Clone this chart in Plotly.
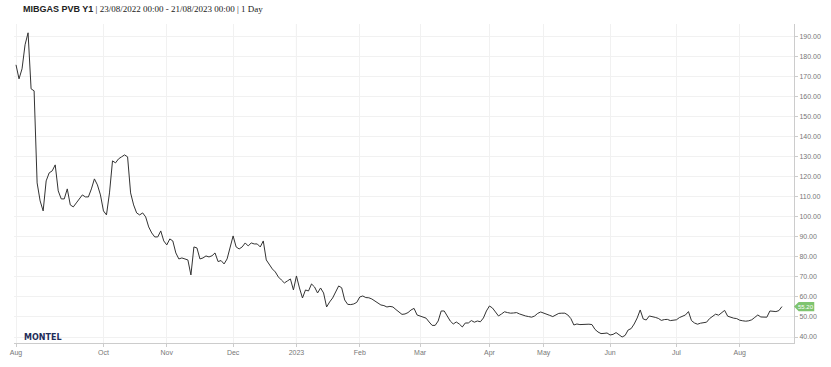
import pandas as pd
import plotly.graph_objects as go

# Trading-day calendar (weekends + exchange holidays removed, as in the ordinal axis)
holidays = ["2022-12-26", "2023-01-02", "2023-04-07", "2023-04-10", "2023-05-01"]
all_days = pd.bdate_range("2022-08-23", "2023-08-21")
dates = [d for d in all_days if d.strftime("%Y-%m-%d") not in holidays]

values = [
    176, 169, 174, 186, 192, 164, 163, 117, 108, 103,
    118, 122, 123, 126, 113, 109, 109, 114, 106, 105,
    107, 109, 111, 110, 110, 114, 119, 116, 111, 103,
    101, 112, 128, 127, 129, 130, 131, 130, 112, 106,
    102, 101, 102, 100, 95, 92, 90, 90, 93, 88,
    86, 89, 88, 82, 79, 79.5, 79, 78.5, 71, 85,
    84.5, 79, 79.5, 80.5, 80, 80.6, 82, 77.7, 78.2, 76.5,
    79, 85, 90.5, 85, 84, 85, 87, 85.5, 87, 86.5,
    86.5, 85, 88, 78.5, 76, 74, 72.5, 70, 68.5, 67,
    68, 69, 63.5, 70.5, 64.5, 59.5, 63.5, 63, 66.5, 65,
    62, 64.5, 62, 55, 57.5, 59.5, 62.5, 65.5, 64.6, 58.5,
    56.3, 56.2, 56.5, 57.3, 60, 60.5, 59.7, 59.6, 59, 58,
    57, 56, 55.7, 55, 55.3, 55, 53.7, 52.5, 51.3, 51.5,
    52.2, 53.5, 54.3, 51, 50.5, 50, 49.4, 47.5, 45.8, 45.8,
    48, 53, 53, 50.5, 48, 46.5, 47.5, 46.5, 45, 47,
    47, 48.2, 47.4, 48, 47.6, 49.5, 53, 55.5, 54.5, 52.5,
    50.5, 51.5, 52.6, 52.2, 51.9, 52, 52.2, 51.5, 50.8, 50.5,
    50.2, 49.9, 50.5, 51.8, 52.5, 51.8, 51.3, 50.8, 50.2, 51,
    51.8, 51.9, 51.9, 51, 49.2, 46, 46.5, 46.2, 46.3, 46.4,
    46.4, 46.2, 43.8, 42.5, 41.7, 41.8, 42, 41, 41.3, 42.2,
    41, 40, 40.8, 43.5, 44.2, 46.5, 49.5, 53.5, 49, 48.5,
    50.5, 50.3, 49.8, 49.3, 48.3, 48.7, 48.8, 48.2, 48.3, 48.6,
    49.7, 50.3, 51, 52.7, 48.2, 47, 46.4, 46.9, 47.1, 47.4,
    49.2, 50.3, 51.4, 50.9, 52, 53.3, 50.4, 49.8, 49.4, 49.2,
    48.4, 48.1, 47.9, 48.1, 48.6, 49.8, 51, 50, 49.8, 49.9,
    53, 53, 52.7, 53.2, 55.2,
]
dates = dates[:len(values)]

tick_dates = ["2022-08-23", "2022-10-03", "2022-11-01", "2022-12-01", "2023-01-03",
              "2023-02-01", "2023-03-01", "2023-04-03", "2023-05-02", "2023-06-01",
              "2023-07-03", "2023-08-01"]
tick_labels = ["Aug", "Oct", "Nov", "Dec", "2023", "Feb", "Mar", "Apr", "May", "Jun", "Jul", "Aug"]
y_ticks = list(range(40, 200, 10))
last_value = values[-1]

fig = go.Figure()
fig.add_trace(go.Scatter(x=dates, y=values, mode="lines",
                         line=dict(color="#333333", width=1), hoverinfo="skip"))

fig.update_layout(
    width=831, height=367,
    margin=dict(l=10, r=34, t=24, b=22),
    paper_bgcolor="white", plot_bgcolor="white",
    showlegend=False,
    font=dict(family="Liberation Sans, Arial, sans-serif", color="#666666", size=7),
)
fig.update_xaxes(
    type="date",
    rangebreaks=[dict(bounds=["sat", "mon"]), dict(values=holidays)],
    range=["2022-08-22 08:00", "2023-08-25 00:00"],
    tickvals=tick_dates, ticktext=tick_labels,
    showgrid=True, gridcolor="#f1f1f1", gridwidth=1,
    showline=True, linecolor="#cccccc", linewidth=1,
    ticks="outside", ticklen=3, tickcolor="#cccccc",
    tickfont=dict(size=7, color="#777777"),
    zeroline=False,
)
fig.update_yaxes(
    side="right", range=[37, 196.4],
    tickvals=y_ticks, tickformat=".2f",
    showgrid=True, gridcolor="#f1f1f1", gridwidth=1,
    showline=True, linecolor="#cccccc", linewidth=1,
    ticks="outside", ticklen=3, tickcolor="#cccccc",
    tickfont=dict(size=7, color="#777777"),
    zeroline=False,
)

# stronger year separator line
fig.add_shape(type="line", xref="x", yref="paper", x0="2023-01-03", x1="2023-01-03",
              y0=0, y1=1, line=dict(color="#dddddd", width=1), layer="below")

# title
fig.add_annotation(
    xref="paper", yref="paper", x=0.009, y=1.0, yshift=15, xanchor="left", yanchor="middle",
    showarrow=False,
    text="<b><span style='font-family:Liberation Sans'>MIBGAS PVB Y1</span></b>"
         " | 23/08/2022 00:00 - 21/08/2023 00:00 | 1 Day",
    font=dict(family="Liberation Serif, serif", size=9, color="#222222"),
)

# MONTEL logo
fig.add_annotation(
    xref="paper", yref="paper", x=0.01, y=0.0, yshift=6, xanchor="left", yanchor="middle",
    showarrow=False, text="<b>MONTEL</b>",
    font=dict(family="DejaVu Sans, sans-serif", size=8, color="#1f2d5a"),
)

# last value flag
fig.add_shape(type="path", xref="paper", yref="y",
              path=f"M 1.0,{last_value} L 1.006,{last_value + 2.3} L 1.026,{last_value + 2.3} "
                   f"L 1.026,{last_value - 2.3} L 1.006,{last_value - 2.3} Z",
              fillcolor="#7fc46f", line=dict(width=0), layer="above")
fig.add_annotation(
    xref="paper", yref="y", x=1.016, y=last_value, xanchor="center", yanchor="middle",
    showarrow=False, text=f"{last_value:.2f}",
    font=dict(size=6, color="white"),
)

fig.write_html("out.html")
